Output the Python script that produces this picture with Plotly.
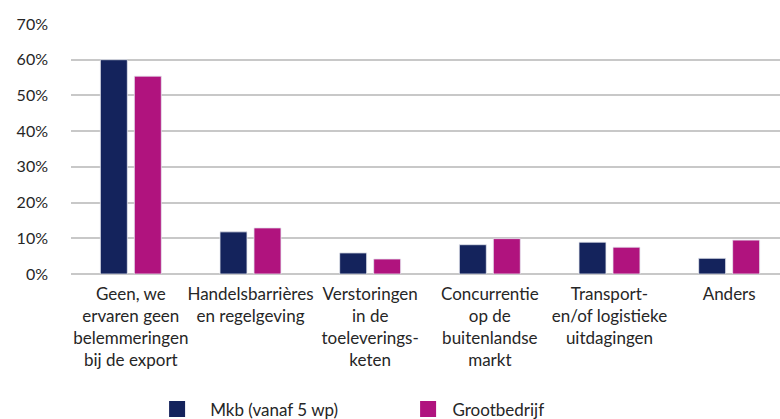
import plotly.graph_objects as go

categories = [
    "Geen, we<br>ervaren geen<br>belemmeringen<br>bij de export",
    "Handelsbarrières<br>en regelgeving",
    "Verstoringen<br>in de<br>toeleverings-<br>keten",
    "Concurrentie<br>op de<br>buitenlandse<br>markt",
    "Transport-<br>en/of logistieke<br>uitdagingen",
    "Anders",
]
mkb_values = [60.0, 11.8, 5.9, 8.2, 8.9, 4.4]
groot_values = [55.4, 12.9, 4.2, 9.9, 7.5, 9.5]
series_names = ["Mkb (vanaf 5 wp)", "Grootbedrijf"]
y_tick_values = [0, 10, 20, 30, 40, 50, 60, 70]
y_tick_labels = ["0%", "10%", "20%", "30%", "40%", "50%", "60%", "70%"]

NAVY = "#14235c"
MAGENTA = "#b0137e"
FONT = "Lato"
TEXT = "#262626"
GRID = "#c8c8c8"

fig = go.Figure()
for name, vals, col in [(series_names[0], mkb_values, NAVY), (series_names[1], groot_values, MAGENTA)]:
    fig.add_trace(go.Bar(
        x=categories, y=vals, name=name, showlegend=False,
        marker=dict(color=col, line=dict(color="#e6e8ef", width=0.8)),
        hoverinfo="y",
    ))
pads = ["\u00a0\u00a0\u00a0", "\u00a0"]
for name, col, pad in [(series_names[0], NAVY, pads[0]), (series_names[1], MAGENTA, pads[1])]:
    fig.add_trace(go.Scatter(
        x=[None], y=[None], mode="markers", name=pad + name,
        marker=dict(symbol="square", size=19, color=col),
        showlegend=True,
    ))

fig.update_layout(
    width=780, height=419,
    margin=dict(l=71, r=0, t=24, b=145),
    paper_bgcolor="white", plot_bgcolor="white",
    barmode="group", bargap=0.432, bargroupgap=0.206,
    font=dict(family=FONT, size=17, color=TEXT),
    showlegend=True,
    legend=dict(
        orientation="h", xref="container", yref="container",
        x=0.2014, xanchor="left", y=0.0225, yanchor="middle",
        entrywidth=206, entrywidthmode="pixels",
        font=dict(family=FONT, size=17, color=TEXT),
        itemsizing="trace",
    ),
    xaxis=dict(
        range=[-0.5, 5.425], showgrid=False, zeroline=False, showline=False,
        ticks="", tickfont=dict(family=FONT, size=17, color=TEXT),
        tickangle=0, fixedrange=True, automargin=False, ticklabelstandoff=8,
    ),
    yaxis=dict(
        range=[0, 70], tickvals=y_tick_values, ticktext=y_tick_labels,
        showgrid=True, gridcolor=GRID, gridwidth=2,
        zeroline=True, zerolinecolor=GRID, zerolinewidth=2,
        showline=False, ticks="", ticklabelstandoff=22, automargin=False,
        tickfont=dict(family=FONT, size=16, color=TEXT), fixedrange=True,
    ),
)

fig.write_html("out.html", config={"displayModeBar": False},
               post_script="document.body.style.margin='0';")
